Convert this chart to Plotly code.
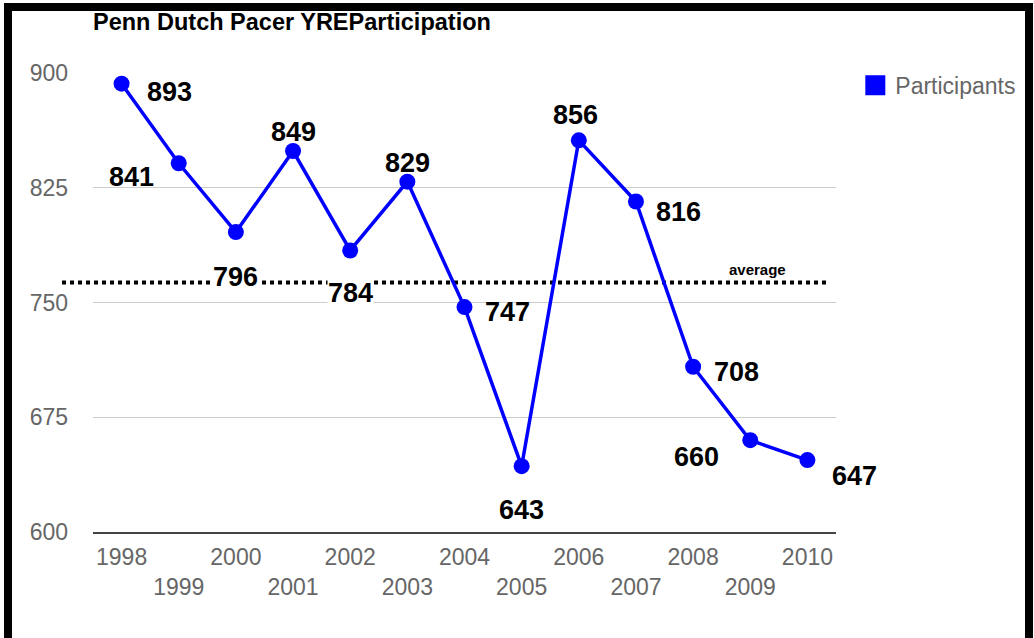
import plotly.graph_objects as go

# ---- data ----
years = [1998, 1999, 2000, 2001, 2002, 2003, 2004, 2005, 2006, 2007, 2008, 2009, 2010]
participants = [893, 841, 796, 849, 784, 829, 747, 643, 856, 816, 708, 660, 647]
average_value = 763
y_ticks = [600, 675, 750, 825, 900]
title_text = "Penn Dutch Pacer YREParticipation"
series_name = "Participants"

# ---- label placement (screen px offsets: right, down) ----
label_offsets = [(48, 8), (-47, 14), (0, 45), (0, -19), (0, 43), (0, -19), (43, 5),
                 (0, 44), (-3, -25), (43, 10), (43, 5), (-54, 17), (47, 16)]
label_white_bg = {2000, 2002}

BLUE = "#0000ff"
FONT = "Liberation Sans, Arial, sans-serif"

fig = go.Figure()
fig.add_trace(go.Scatter(
    x=years, y=participants, mode="lines+markers",
    line=dict(color=BLUE, width=3.5),
    marker=dict(color=BLUE, size=16),
    showlegend=False, hoverinfo="x+y",
))
# legend entry (square swatch)
fig.add_trace(go.Scatter(
    x=[None], y=[None], mode="markers", name=series_name,
    marker=dict(color=BLUE, size=16, symbol="square", line=dict(color=BLUE, width=4)),
))

ann = []
for yr, v, (dx, dy) in zip(years, participants, label_offsets):
    ann.append(dict(
        x=yr, y=v, xref="x", yref="y", text=f"<b>{v}</b>", showarrow=False,
        xshift=dx, yshift=-dy, font=dict(family=FONT, size=27, color="black"),
        bgcolor="white" if yr in label_white_bg else "rgba(0,0,0,0)", borderpad=0,
    ))
ann.append(dict(
    x=2009.12, y=average_value, xref="x", yref="y", text="<b>average</b>", showarrow=False,
    yshift=13, font=dict(family=FONT, size=15, color="black"),
))

ticktext = [str(y) if i % 2 == 0 else "<br>" + str(y) for i, y in enumerate(years)]

fig.update_layout(
    width=1034, height=638,
    margin=dict(l=93, r=198, t=73, b=106),
    paper_bgcolor="white", plot_bgcolor="white",
    title=dict(text=f"<b>{title_text}</b>", x=0, xref="paper", xanchor="left",
               y=1 - 22 / 638, yref="container", yanchor="middle",
               font=dict(family=FONT, size=23.5, color="black")),
    xaxis=dict(range=[1997.5, 2010.5], tickmode="array", tickvals=years, ticktext=ticktext,
               showgrid=False, zeroline=False, showline=True, linecolor="#444", linewidth=2,
               ticks="", ticklabelstandoff=3,
               tickfont=dict(family=FONT, size=23, color="#666")),
    yaxis=dict(range=[600, 900], tickmode="array", tickvals=y_ticks,
               showgrid=True, gridcolor="#cccccc", gridwidth=1, zeroline=False,
               ticks="", ticklabelstandoff=24,
               tickfont=dict(family=FONT, size=23, color="#666")),
    legend=dict(x=1.026, y=1.02, xanchor="left", yanchor="top", bgcolor="rgba(0,0,0,0)",
                font=dict(family=FONT, size=23, color="#666")),
    annotations=ann,
    shapes=[
        dict(type="line", xref="paper", yref="y", x0=-0.0417, x1=0.988,
             y0=average_value, y1=average_value, layer="below",
             line=dict(color="black", width=4, dash="dot")),
        dict(type="rect", xref="paper", yref="paper",
             x0=(8 - 93) / 743, x1=(1029 - 93) / 743,
             y0=(532 - 645) / 459, y1=(532 - 7) / 459,
             line=dict(color="black", width=8), fillcolor="rgba(0,0,0,0)", layer="above"),
    ],
)

fig.write_html(
    "out.html",
    config={"displayModeBar": False},
    post_script="document.body.style.margin='0';document.body.style.overflow='hidden';",
)
